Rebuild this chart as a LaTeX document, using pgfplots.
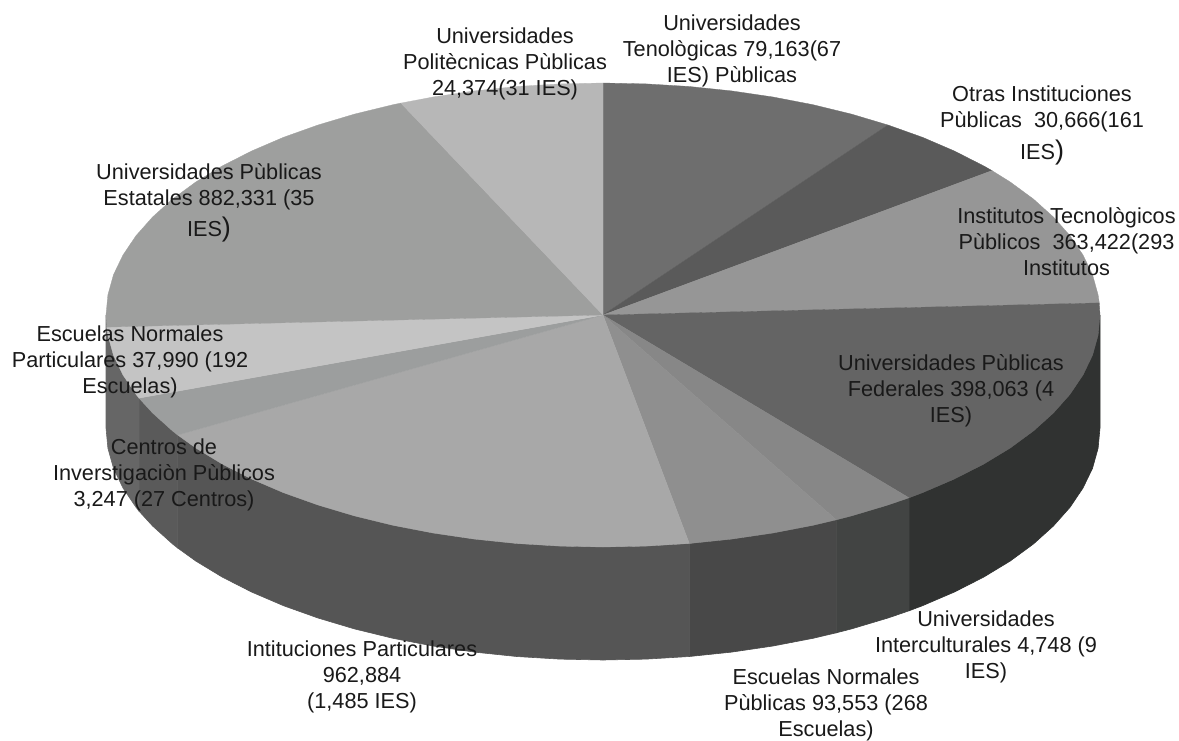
\documentclass[border=0pt]{standalone}
\usepackage{pgfplots}
\pgfplotsset{compat=1.18}
\usepackage{fontspec}
\setmainfont{Liberation Sans}
\definecolor{tTec}{HTML}{6E6E6E}
\definecolor{tOtr}{HTML}{5A5A5A}
\definecolor{tIns}{HTML}{969696}
\definecolor{tFed}{HTML}{646464}
\definecolor{tInt}{HTML}{878787}
\definecolor{tNor}{HTML}{8F8F8F}
\definecolor{tPar}{HTML}{A8A8A8}
\definecolor{tCen}{HTML}{9C9E9E}
\definecolor{tEsc}{HTML}{C4C4C4}
\definecolor{tEst}{HTML}{9E9F9E}
\definecolor{tPol}{HTML}{B7B7B7}
\definecolor{sFed}{HTML}{303231}
\definecolor{sInt}{HTML}{424443}
\definecolor{sNor}{HTML}{484848}
\definecolor{sPar}{HTML}{555555}
\definecolor{sCen}{HTML}{5A5A5A}
\definecolor{sEsc}{HTML}{666666}
\tikzset{lab/.style={align=center,text=black!90,font=\fontsize{21.7}{26}\selectfont}}
\newcommand{\bigp}{{\fontsize{27}{26}\selectfont)}}
\begin{document}
\begin{tikzpicture}
\path[use as bounding box] (0,0) rectangle (1179pt,740pt);
\begin{axis}[at={(0,0)},anchor=south west,width=1179pt,height=740pt,scale only axis,
  xmin=0,xmax=1179,ymin=0,ymax=740,y dir=reverse,axis lines=none,clip=false]
% side walls
\addplot[fill=sFed,draw=sFed,line width=.6pt] coordinates {(1100,315)(1098.1,335.2)(1092.5,355.3)(1083,375)(1070,394.3)(1053.4,413)(1033.4,431)(1010.1,448.1)(983.7,464.1)(954.4,479)(922.5,492.7)(909,497.8)(909,610.8)(922.5,605.7)(954.4,592)(983.7,577.1)(1010.1,561.1)(1033.4,544)(1053.4,526)(1070,507.3)(1083,488)(1092.5,468.3)(1098.1,448.2)(1100,428)} --cycle;
\addplot[fill=sInt,draw=sInt,line width=.6pt] coordinates {(909,497.8)(888,505)(851.5,515.9)(836.3,519.8)(836.3,632.8)(851.5,628.9)(888,618)(909,610.8)} --cycle;
\addplot[fill=sNor,draw=sNor,line width=.6pt] coordinates {(836.3,519.8)(813,525.3)(773,533)(731.6,539.1)(689.3,543.5)(689.3,656.5)(731.6,652.1)(773,646)(813,638.3)(836.3,632.8)} --cycle;
\addplot[fill=sPar,draw=sPar,line width=.6pt] coordinates {(689.3,543.5)(646.3,546.1)(603,547)(559.7,546.1)(516.7,543.5)(474.4,539.1)(433,533)(393,525.3)(354.5,515.9)(318,505)(283.5,492.7)(251.6,479)(222.3,464.1)(195.9,448.1)(177.7,435)(177.7,548)(195.9,561.1)(222.3,577.1)(251.6,592)(283.5,605.7)(318,618)(354.5,628.9)(393,638.3)(433,646)(474.4,652.1)(516.7,656.5)(559.7,659.1)(603,660)(646.3,659.1)(689.3,656.5)} --cycle;
\addplot[fill=sCen,draw=sCen,line width=.6pt] coordinates {(177.7,435)(172.6,431)(152.6,413)(139,398.1)(139,511.1)(152.6,526)(172.6,544)(177.7,548)} --cycle;
\addplot[fill=sEsc,draw=sEsc,line width=.6pt] coordinates {(139,398.1)(136,394.3)(123,375)(113.5,355.3)(107.9,335.2)(106,315)(106,428)(107.9,448.2)(113.5,468.3)(123,488)(136,507.3)(139,511.1)} --cycle;
% top faces
\addplot[fill=tTec,draw=tTec,line width=.3pt] coordinates {(603,315)(603,83)(646.3,83.9)(689.3,86.5)(731.6,90.9)(773,97)(813,104.7)(851.5,114.1)(888,125)} --cycle;
\addplot[fill=tOtr,draw=tOtr,line width=.3pt] coordinates {(603,315)(888,125)(922.5,137.3)(954.4,151)(983.7,165.9)(992,170.6)} --cycle;
\addplot[fill=tIns,draw=tIns,line width=.3pt] coordinates {(603,315)(992,170.6)(1010.1,181.9)(1033.4,199)(1053.4,217)(1070,235.7)(1083,255)(1092.5,274.7)(1098.1,294.8)(1099.3,302.9)} --cycle;
\addplot[fill=tFed,draw=tFed,line width=.3pt] coordinates {(603,315)(1099.3,302.9)(1100,315)(1098.1,335.2)(1092.5,355.3)(1083,375)(1070,394.3)(1053.4,413)(1033.4,431)(1010.1,448.1)(983.7,464.1)(954.4,479)(922.5,492.7)(909,497.8)} --cycle;
\addplot[fill=tInt,draw=tInt,line width=.3pt] coordinates {(603,315)(909,497.8)(888,505)(851.5,515.9)(836.3,519.8)} --cycle;
\addplot[fill=tNor,draw=tNor,line width=.3pt] coordinates {(603,315)(836.3,519.8)(813,525.3)(773,533)(731.6,539.1)(689.3,543.5)} --cycle;
\addplot[fill=tPar,draw=tPar,line width=.3pt] coordinates {(603,315)(689.3,543.5)(646.3,546.1)(603,547)(559.7,546.1)(516.7,543.5)(474.4,539.1)(433,533)(393,525.3)(354.5,515.9)(318,505)(283.5,492.7)(251.6,479)(222.3,464.1)(195.9,448.1)(177.7,435)} --cycle;
\addplot[fill=tCen,draw=tCen,line width=.3pt] coordinates {(603,315)(177.7,435)(172.6,431)(152.6,413)(139,398.1)} --cycle;
\addplot[fill=tEsc,draw=tEsc,line width=.3pt] coordinates {(603,315)(139,398.1)(136,394.3)(123,375)(113.5,355.3)(107.9,335.2)(106.7,327.1)} --cycle;
\addplot[fill=tEst,draw=tEst,line width=.3pt] coordinates {(603,315)(106.7,327.1)(106,315)(107.9,294.8)(113.5,274.7)(123,255)(136,235.7)(152.6,217)(172.6,199)(195.9,181.9)(222.3,165.9)(251.6,151)(283.5,137.3)(318,125)(354.5,114.1)(393,104.7)(400.9,103.1)} --cycle;
\addplot[fill=tPol,draw=tPol,line width=.3pt] coordinates {(603,315)(400.9,103.1)(433,97)(474.4,90.9)(516.7,86.5)(559.7,83.9)(603,83)} --cycle;
% labels
\node[lab] at (axis cs:505,64) {Universidades\\Politècnicas Pùblicas\\24,374(31 IES)};
\node[lab] at (axis cs:732,50.5) {Universidades\\Tenològicas 79,163(67\\IES) Pùblicas};
\node[lab] at (axis cs:1042,125) {Otras Instituciones\\Pùblicas\ \ 30,666(161\\[6pt]IES\bigp};
\node[lab] at (axis cs:1066.5,241.5) {Institutos Tecnològicos\\Pùblicos\ \ 363,422(293\\Institutos};
\node[lab] at (axis cs:951,391) {Universidades Pùblicas\\Federales 398,063 (4\\IES)};
\node[lab] at (axis cs:209,202.5) {Universidades Pùblicas\\Estatales 882,331 (35\\[5pt]IES\bigp};
\node[lab] at (axis cs:130,362) {Escuelas Normales\\Particulares 37,990 (192\\Escuelas)};
\node[lab] at (axis cs:164,474.5) {Centros de\\Inverstigaciòn Pùblicos\\3,247 (27 Centros)};
\node[lab] at (axis cs:362,676.5) {Intituciones Particulares\\962,884\\(1,485 IES)};
\node[lab] at (axis cs:826,704.5) {Escuelas Normales\\Pùblicas 93,553 (268\\Escuelas)};
\node[lab] at (axis cs:986,646.5) {Universidades\\Interculturales 4,748 (9\\IES)};
\end{axis}
\end{tikzpicture}
\end{document}
